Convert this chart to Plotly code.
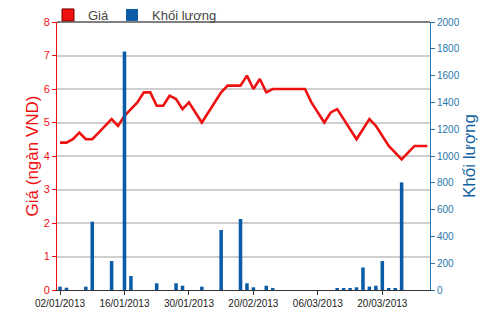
import plotly.graph_objects as go

dates = [
    "02/01/2013", "03/01/2013", "04/01/2013", "07/01/2013", "08/01/2013", "09/01/2013",
    "10/01/2013", "11/01/2013", "14/01/2013", "15/01/2013", "16/01/2013", "17/01/2013",
    "18/01/2013", "21/01/2013", "22/01/2013", "23/01/2013", "24/01/2013", "25/01/2013",
    "28/01/2013", "29/01/2013", "30/01/2013", "31/01/2013", "01/02/2013", "04/02/2013",
    "05/02/2013", "06/02/2013", "07/02/2013", "08/02/2013", "18/02/2013", "19/02/2013",
    "20/02/2013", "21/02/2013", "22/02/2013", "25/02/2013", "26/02/2013", "27/02/2013",
    "28/02/2013", "01/03/2013", "04/03/2013", "05/03/2013", "06/03/2013", "07/03/2013",
    "08/03/2013", "11/03/2013", "12/03/2013", "13/03/2013", "14/03/2013", "15/03/2013",
    "18/03/2013", "19/03/2013", "20/03/2013", "21/03/2013", "22/03/2013", "25/03/2013",
    "26/03/2013", "27/03/2013", "28/03/2013", "29/03/2013",
]

price = [
    4.4, 4.4, 4.5, 4.7, 4.5, 4.5, 4.7, 4.9, 5.1, 4.9,
    5.2, 5.4, 5.6, 5.9, 5.9, 5.5, 5.5, 5.8, 5.7, 5.4,
    5.6, 5.3, 5.0, 5.3, 5.6, 5.9, 6.1, 6.1, 6.1, 6.4,
    6.0, 6.3, 5.9, 6.0, 6.0, 6.0, 6.0, 6.0, 6.0, 5.6,
    5.3, 5.0, 5.3, 5.4, 5.1, 4.8, 4.5, 4.8, 5.1, 4.9,
    4.6, 4.3, 4.1, 3.9, 4.1, 4.3, 4.3, 4.3,
]

volume = [
    25, 17, 0, 0, 25, 510, 0, 0, 216, 0,
    1780, 104, 0, 0, 0, 50, 0, 0, 50, 32,
    0, 0, 25, 0, 0, 448, 0, 0, 530, 50,
    20, 0, 32, 12, 0, 0, 0, 0, 0, 0,
    0, 0, 0, 12, 12, 12, 20, 168, 25, 32,
    216, 12, 12, 803, 0, 0, 0, 0,
]

tick_dates = [dates[i] for i in range(0, len(dates), 10)]

RED = "#ee1111"
BLUE = "#0b5ca6"
AXBLUE = "#2a78ad"
FONT = "Liberation Sans, Arial, sans-serif"

fig = go.Figure()

fig.add_trace(go.Scatter(
    x=dates, y=price, mode="lines", yaxis="y",
    line=dict(color=RED, width=2.6), showlegend=False, hoverinfo="skip",
))
fig.add_trace(go.Scatter(
    x=[None], y=[None], mode="markers", name="Giá", legend="legend",
    marker=dict(symbol="square", size=12, color=RED, line=dict(color="#700", width=1)),
))
fig.add_trace(go.Bar(
    x=dates, y=volume, yaxis="y2", name="Khối lượng", width=0.55, legend="legend2",
    marker=dict(color=BLUE, line=dict(width=0)),
))

legend_style = dict(
    orientation="h", xref="container", yref="container",
    xanchor="left", y=1.0, yanchor="top",
    font=dict(size=13, color="#444"), bgcolor="rgba(0,0,0,0)",
    itemclick=False,
)

fig.update_layout(
    width=500, height=312,
    margin=dict(l=57, r=70, t=22, b=22, autoexpand=False),
    paper_bgcolor="white", plot_bgcolor="white",
    font=dict(family=FONT, color="#333"),
    barmode="overlay",
    xaxis=dict(
        type="category", range=[-0.47, 57.4],
        tickmode="array", tickvals=tick_dates, ticktext=tick_dates,
        showline=True, linecolor="#333", linewidth=1.2,
        ticks="outside", ticklen=4, tickcolor="#333",
        tickfont=dict(size=10, color="#222"), showgrid=False,
    ),
    yaxis=dict(
        range=[0, 8], dtick=1, showline=True, linecolor=RED, linewidth=1,
        ticks="outside", ticklen=4, tickcolor=RED,
        tickfont=dict(size=11, color=RED),
        gridcolor="#cfcfcf", gridwidth=1.5, zeroline=False,
        title=dict(text="Giá (ngàn VND)", font=dict(size=17, color=RED), standoff=0),
    ),
    yaxis2=dict(
        range=[0, 2000], dtick=200, overlaying="y", side="right",
        showline=True, linecolor=AXBLUE, linewidth=1,
        ticks="outside", ticklen=4, tickcolor=AXBLUE,
        tickfont=dict(size=10, color=AXBLUE), showgrid=False, zeroline=False,
        title=dict(text="Khối lượng", font=dict(size=17, color="#1262a2"), standoff=4),
    ),
    legend=dict(x=0.096, **legend_style),
    legend2=dict(x=0.224, **legend_style),
    shapes=[dict(type="line", xref="paper", yref="paper", x0=0, x1=1, y0=1, y1=1,
                 line=dict(color="#555", width=1.5))],
)

fig.write_html("out.html")
